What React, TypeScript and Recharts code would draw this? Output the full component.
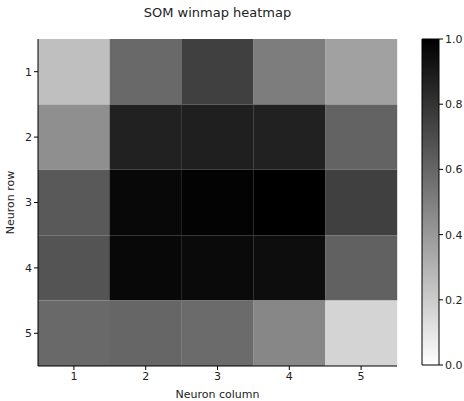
import { BarChart, Bar, XAxis, YAxis, Cell } from 'recharts'

const columns = ['1', '2', '3', '4', '5']
const rowLabels = ['1', '2', '3', '4', '5']
// winmap values per row (top to bottom), one value per column, normalised 0..1
const row1 = [0.25, 0.59, 0.75, 0.51, 0.37]
const row2 = [0.44, 0.87, 0.88, 0.87, 0.61]
const row3 = [0.65, 0.97, 0.99, 1.0, 0.75]
const row4 = [0.67, 0.97, 0.96, 0.95, 0.62]
const row5 = [0.59, 0.6, 0.58, 0.47, 0.17]
const rows = [row1, row2, row3, row4, row5]
const colorbarTicks = [0, 0.2, 0.4, 0.6, 0.8, 1.0]

const FONT = 'DejaVu Sans, sans-serif'
const TEXT = '#222'

const grayR = (v: number) => {
  const g = Math.round(255 * (1 - v))
  return `rgb(${g},${g},${g})`
}

const data = columns.map((c) => {
  const d: Record<string, string | number> = { col: c }
  rows.forEach((_, ri) => {
    d[`r${ri}`] = 1
  })
  return d
})

const tickStyle = { fontSize: 11, fill: TEXT, fontFamily: FONT }

export default function App() {
  return (
    <div style={{ position: 'absolute', left: 0, top: 0, width: 464, height: 401, background: '#fff' }}>
      <div style={{ position: 'absolute', left: 38, width: 359, top: 5, textAlign: 'center', fontFamily: FONT, fontSize: 13, color: TEXT }}>
        SOM winmap heatmap
      </div>
      <div style={{ position: 'absolute', left: 0, top: 0 }}>
        <BarChart width={464} height={401} data={data} margin={{ top: 39, right: 67, bottom: 0, left: 0 }} barCategoryGap={0}>
          <XAxis
            dataKey="col"
            height={35}
            tickSize={4}
            tick={tickStyle}
            stroke="#000"
            label={{ value: 'Neuron column', position: 'insideBottom', offset: 3, style: { fontSize: 11, fill: TEXT, fontFamily: FONT } }}
          />
          <XAxis xAxisId="top" dataKey="col" orientation="top" height={0} tick={false} tickLine={false} stroke="#000" />
          <YAxis
            type="number"
            domain={[0, 5]}
            reversed
            ticks={[0.5, 1.5, 2.5, 3.5, 4.5]}
            tickFormatter={(v: number) => rowLabels[Math.floor(v)]}
            width={38}
            tickSize={4}
            tick={tickStyle}
            stroke="#000"
            label={{ value: 'Neuron row', angle: -90, position: 'insideLeft', offset: 10, style: { fontSize: 11, fill: TEXT, fontFamily: FONT, textAnchor: 'middle' } }}
          />
          <YAxis yAxisId="right" orientation="right" type="number" domain={[0, 5]} width={0} tick={false} tickLine={false} stroke="#000" />
          {rows.map((vals, ri) => (
            <Bar key={ri} dataKey={`r${ri}`} stackId="a" isAnimationActive={false}>
              {vals.map((v, ci) => (
                <Cell key={ci} fill={grayR(v)} />
              ))}
            </Bar>
          ))}
        </BarChart>
      </div>
      <div style={{ position: 'absolute', left: 0, top: 0 }}>
        <BarChart width={464} height={401} data={[{ k: 'cb', v: 1 }]} margin={{ top: 39, right: 0, bottom: 36, left: 422 }} barCategoryGap={0}>
          <defs>
            <linearGradient id="cbGrad" x1="0" y1="0" x2="0" y2="1">
              <stop offset="0%" stopColor="#000" />
              <stop offset="100%" stopColor="#fff" />
            </linearGradient>
          </defs>
          <XAxis dataKey="k" hide />
          <YAxis
            orientation="right"
            type="number"
            domain={[0, 1]}
            ticks={colorbarTicks}
            tickFormatter={(v: number) => v.toFixed(1)}
            width={25}
            tickSize={4}
            tick={tickStyle}
            axisLine={false}
            tickLine={{ stroke: '#000' }}
          />
          <Bar dataKey="v" fill="url(#cbGrad)" stroke="#000" strokeWidth={1} isAnimationActive={false} />
        </BarChart>
      </div>
    </div>
  )
}
